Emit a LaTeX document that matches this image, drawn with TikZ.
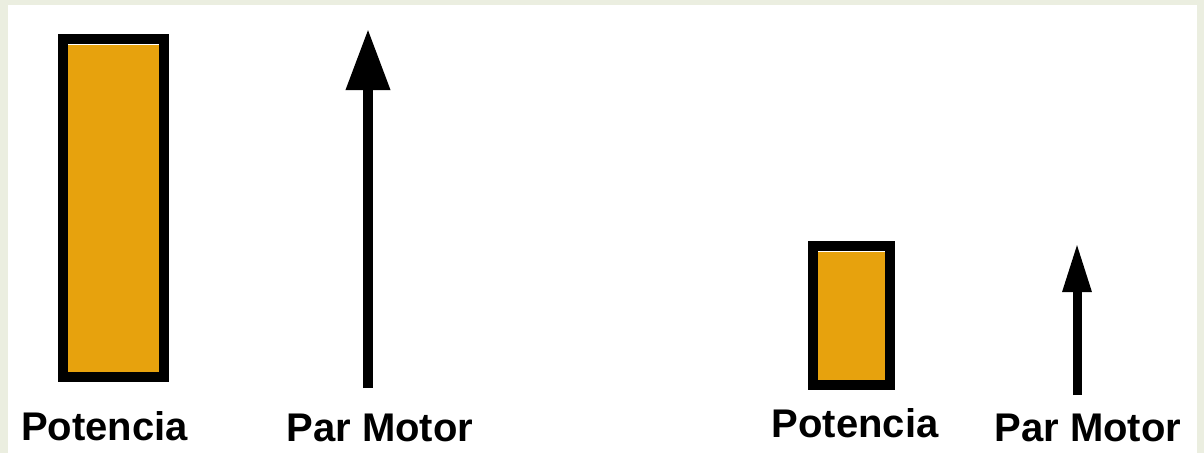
\documentclass[tikz,border=0pt]{standalone}
\usepackage{fontspec}
\setmainfont{Liberation Sans}
\usetikzlibrary{arrows.meta,positioning}
\definecolor{frame}{HTML}{EBEEE0}
\definecolor{ochre}{HTML}{E7A20D}
\tikzset{
  bar/.style={draw=black,line width=10pt,fill=ochre,inner sep=0pt,outer sep=0pt},
  gloss/.style={draw=white,line width=1.3pt},
  force/.style={draw=black,line width=10pt,-{Triangle[length=61pt,width=42pt]}},
  forcesm/.style={force,line width=9pt,-{Triangle[length=49pt,width=27pt]}},
  caption/.style={font=\fontsize{40}{44}\selectfont\bfseries,inner sep=0pt,anchor=base},
}

\begin{document}
\begin{tikzpicture}[x=1pt,y=-1pt]
  % frame and white panel
  \fill[frame] (0,0) rectangle (1204,453);
  \fill[white] (8,5) rectangle (1197,453);
  \useasboundingbox (0,0) rectangle (1204,453);

  % --- high power: tall bar and long arrow ---
  \node[bar,minimum width=101pt,minimum height=338pt] (P1) at (113.5,208) {};
  \draw[gloss] ([xshift=5pt,yshift=-5.8pt]P1.north west) -- ([xshift=-5pt,yshift=-5.8pt]P1.north east);
  \coordinate (M1b) at (368,388);
  \coordinate (M1t) at (368,29);
  \draw[force] (M1b) -- (M1t);
  \node[caption] (LP1) at (104.5,440) {Potencia};
  \node[caption] (LM1) at (380,441) {Par Motor};

  % --- low power: short bar and short arrow ---
  \node[bar,minimum width=77pt,minimum height=139pt] (P2) at (851.5,315.5) {};
  \draw[gloss] ([xshift=5pt,yshift=-5.8pt]P2.north west) -- ([xshift=-5pt,yshift=-5.8pt]P2.north east);
  \coordinate (M2b) at (1077,395);
  \coordinate (M2t) at (1077,243);
  \draw[forcesm] (M2b) -- (M2t);
  \node[caption] (LP2) at (855,437) {Potencia};
  \node[caption] (LM2) at (1088,441) {Par Motor};
\end{tikzpicture}
\end{document}
